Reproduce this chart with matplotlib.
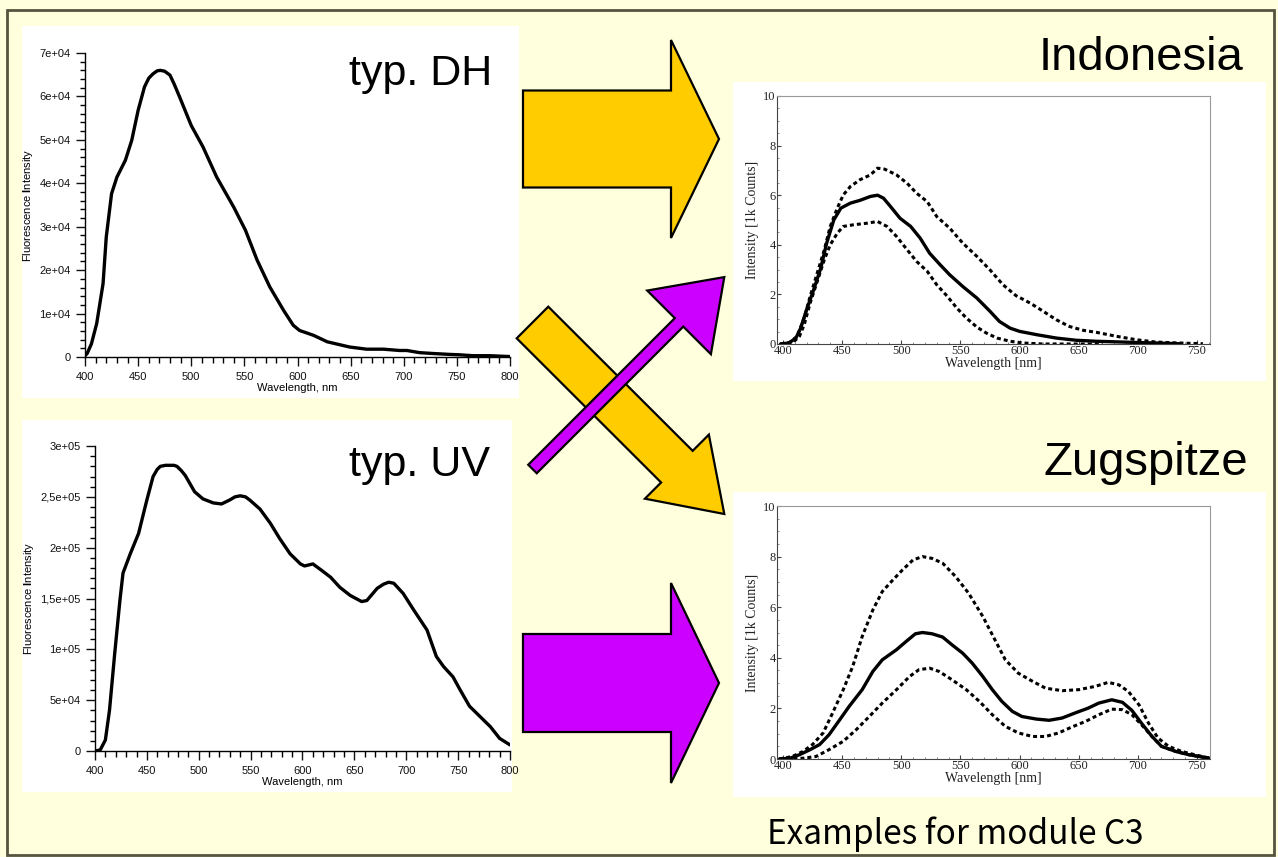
"""
Slide figure: typical DH / UV fluorescence spectra mapped onto the
Indonesia and Zugspitze spectra (examples for module C3).
"""

from __future__ import annotations

import matplotlib

matplotlib.use("Agg")
import matplotlib.pyplot as plt
from matplotlib.patches import FancyArrow, Rectangle
from matplotlib.ticker import MultipleLocator


W, H = 1278, 857
BG_COLOR = "#FFFFDD"
FRAME_COLOR = "#55553F"
YELLOW = "#FFCC00"
MAGENTA = "#CC00FF"

# typ. DH spectrum (wavelength nm, fluorescence intensity)
dh_wl = [400, 402, 406, 411, 417, 420, 425, 430, 438, 444, 450, 456, 460, 464,
	468, 471, 475, 480, 484, 489, 500, 511, 524, 540, 551, 562, 574, 587, 596,
	602, 615, 628, 649, 665, 681, 696, 703, 715, 728, 743, 753, 765, 781, 800]
dh_int = [300, 800, 3000, 7700, 16900, 27600, 37600, 41400, 45300, 49900, 56800,
	62200, 64200, 65200, 65900, 66000, 65800, 64900, 62800, 59900, 53300, 48400,
	41400, 34500, 29200, 22300, 16100, 10700, 7300, 6100, 5000, 3500, 2300, 1800,
	1800, 1500, 1500, 1000, 800, 600, 500, 300, 300, 100]
dh_yticks = [0, 1e4, 2e4, 3e4, 4e4, 5e4, 6e4, 7e4]
dh_ylabels = ["0", "1e+04", "2e+04", "3e+04", "4e+04", "5e+04", "6e+04", "7e+04"]

# typ. UV spectrum
uv_wl = [400, 405, 410, 414, 419, 424, 427, 434, 442, 450, 456, 460, 463, 468,
	472, 476, 479, 483, 487, 496, 504, 514, 522, 530, 535, 540, 545, 549, 559,
	569, 578, 588, 598, 602, 606, 610, 618, 627, 636, 646, 657, 662, 672, 678,
	683, 688, 697, 707, 720, 729, 736, 745, 752, 761, 771, 781, 790, 800]
uv_int = [0, 1000, 10800, 40300, 96000, 148000, 175000, 194000, 214000, 247000,
	270000, 277000, 280000, 281000, 281000, 281000, 280000, 276000, 271000,
	255000, 248000, 244000, 243000, 247000, 250000, 251000, 250000, 247000,
	238000, 224000, 209000, 194000, 184000, 182000, 183000, 184000, 178000,
	171000, 161000, 153000, 147000, 148000, 160000, 164000, 166000, 165000,
	155000, 139000, 119000, 93000, 83000, 73000, 60000, 44000, 34000, 24000,
	12400, 6000]
uv_yticks = [0, 5e4, 1e5, 1.5e5, 2e5, 2.5e5, 3e5]
uv_ylabels = ["0", "5e+04", "1e+05", "1,5e+05", "2e+05", "2,5e+05", "3e+05"]

# Indonesia (intensity in 1k counts)
indo_wl = [398, 405, 411, 415, 420, 426, 432, 437, 443, 449, 457, 465, 474, 480,
	485, 491, 499, 508, 516, 524, 533, 541, 552, 564, 575, 583, 592, 600, 614,
	631, 648, 665, 693, 715, 735]
indo_mean = [0, 0.04, 0.24, 0.64, 1.38, 2.19, 3.06, 4.07, 5.0, 5.48, 5.68, 5.79,
	5.95, 6.0, 5.88, 5.54, 5.07, 4.74, 4.27, 3.66, 3.19, 2.79, 2.32, 1.85, 1.32,
	0.91, 0.64, 0.51, 0.38, 0.24, 0.15, 0.11, 0.07, 0.04, 0.01]
indo_hi_wl = [398, 406, 412, 418, 423, 429, 435, 440, 446, 451, 457, 465, 474,
	480, 486, 496, 505, 513, 522, 530, 541, 552, 564, 575, 586, 597, 609, 620,
	631, 642, 654, 665, 682, 699, 715, 735, 755]
indo_hi = [0, 0.07, 0.31, 1.05, 1.92, 2.86, 3.80, 4.74, 5.48, 6.01, 6.35, 6.62,
	6.82, 7.09, 7.05, 6.82, 6.48, 6.08, 5.74, 5.14, 4.67, 4.07, 3.53, 2.99, 2.39,
	1.95, 1.65, 1.32, 0.98, 0.71, 0.55, 0.47, 0.31, 0.17, 0.08, 0.04, 0.01]
indo_lo_wl = [398, 408, 414, 418, 423, 429, 435, 440, 446, 451, 460, 471, 480,
	488, 496, 505, 513, 522, 530, 539, 547, 555, 564, 572, 581, 592, 603, 620,
	637, 670]
indo_lo = [0, 0.04, 0.31, 0.78, 1.65, 2.52, 3.40, 4.0, 4.47, 4.74, 4.81, 4.87,
	4.94, 4.74, 4.34, 3.80, 3.33, 2.93, 2.39, 1.92, 1.45, 1.05, 0.68, 0.44, 0.24,
	0.11, 0.04, 0.0, 0.0, 0.0]

# Zugspitze (intensity in 1k counts)
zug_wl = [397, 406, 414, 423, 431, 439, 448, 456, 467, 476, 484, 496, 504, 512,
	518, 526, 535, 543, 552, 560, 569, 577, 585, 594, 602, 614, 625, 636, 647,
	658, 667, 678, 687, 695, 703, 712, 720, 732, 743, 754, 760]
zug_mean = [0, 0.03, 0.17, 0.37, 0.57, 0.96, 1.55, 2.08, 2.74, 3.46, 3.92, 4.32,
	4.64, 4.95, 5.0, 4.95, 4.82, 4.51, 4.18, 3.79, 3.26, 2.74, 2.28, 1.88, 1.68,
	1.58, 1.53, 1.62, 1.82, 2.01, 2.21, 2.34, 2.24, 1.92, 1.42, 0.89, 0.5, 0.30,
	0.17, 0.08, 0.04]
zug_hi_wl = [397, 408, 417, 425, 434, 442, 451, 459, 467, 476, 484, 493, 501,
	510, 518, 526, 535, 546, 557, 569, 580, 588, 599, 611, 622, 636, 650, 664,
	675, 684, 692, 701, 709, 717, 726, 737, 748, 760]
zug_hi = [0, 0.1, 0.30, 0.57, 1.03, 1.82, 2.74, 3.66, 4.84, 5.89, 6.62, 7.08,
	7.47, 7.87, 8.0, 7.93, 7.74, 7.21, 6.55, 5.63, 4.64, 3.92, 3.39, 3.07, 2.80,
	2.70, 2.74, 2.87, 3.03, 2.93, 2.67, 2.14, 1.42, 0.83, 0.50, 0.30, 0.17, 0.04]
zug_lo_wl = [397, 417, 428, 439, 451, 462, 473, 484, 496, 507, 515, 524, 532,
	543, 555, 566, 577, 588, 599, 611, 622, 633, 644, 656, 667, 678, 687, 695,
	703, 712, 720, 732, 743, 754, 760]
zug_lo = [0, 0.03, 0.1, 0.37, 0.70, 1.16, 1.68, 2.21, 2.74, 3.26, 3.53, 3.59,
	3.46, 3.13, 2.74, 2.28, 1.75, 1.29, 1.03, 0.89, 0.89, 1.03, 1.26, 1.49, 1.75,
	1.97, 1.95, 1.75, 1.36, 0.89, 0.5, 0.30, 0.17, 0.08, 0.04]


def add_px_axes(fig, x0, y0, x1, y1):
	"""Add an axes given its box in pixels (origin top-left)."""
	return fig.add_axes([x0 / W, 1 - y1 / H, (x1 - x0) / W, (y1 - y0) / H])


def style_left(ax, yticks, ylabels, ymax, yminor):
	ax.set_facecolor("none")
	ax.set_xlim(400, 800)
	ax.set_ylim(0, ymax)
	for side in ("top", "right"):
		ax.spines[side].set_visible(False)
	for side in ("left", "bottom"):
		ax.spines[side].set_linewidth(1.0)
	ax.set_xticks(range(400, 801, 50))
	ax.xaxis.set_minor_locator(MultipleLocator(10))
	ax.set_yticks(yticks, ylabels)
	ax.yaxis.set_minor_locator(MultipleLocator(yminor))
	ax.tick_params(which="major", direction="out", length=6.5, width=1,
		labelsize=8, colors="#111111", pad=4)
	ax.tick_params(which="minor", direction="out", length=4, width=1)
	ax.tick_params(axis="y", which="minor", length=3.5)
	ax.set_ylabel(r"Fluorescence $\mathbf{I}$ntensity", fontsize=8, labelpad=3)
	ax.set_xlabel("Wavelength, nm", fontsize=8, labelpad=1)


def style_right(ax):
	ax.set_facecolor("none")
	ax.set_xlim(395, 761)
	ax.set_ylim(0, 10)
	for side in ("left", "bottom"):
		ax.spines[side].set_color("#444444")
	for side in ("top", "right"):
		ax.spines[side].set_color("#999999")
	ax.set_xticks(range(400, 751, 50))
	ax.set_yticks(range(0, 11, 2))
	ax.xaxis.set_minor_locator(MultipleLocator(10))
	ax.yaxis.set_minor_locator(MultipleLocator(0.5))
	ax.tick_params(which="major", direction="in", length=3, width=0.8,
		labelsize=9, colors="#444444", labelcolor="#222222", pad=1)
	ax.tick_params(which="minor", direction="in", length=1.5, width=0.6,
		colors="#777777")
	for lbl in ax.get_xticklabels() + ax.get_yticklabels():
		lbl.set_fontfamily("Liberation Serif")
	ax.set_xlabel("Wavelength [nm]", fontsize=10, family="Liberation Serif",
		color="#222222", labelpad=0)
	ax.set_ylabel("Intensity [1k Counts]", fontsize=10, family="Liberation Serif",
		color="#222222", labelpad=3)


def main() -> None:
	plt.rcParams["font.family"] = ["Liberation Sans", "DejaVu Sans"]
	plt.rcParams["mathtext.fontset"] = "custom"
	plt.rcParams["mathtext.rm"] = "Liberation Sans"
	plt.rcParams["mathtext.bf"] = "Liberation Sans:bold"
	plt.rcParams["lines.solid_joinstyle"] = "round"
	plt.rcParams["lines.solid_capstyle"] = "round"

	fig = plt.figure(figsize=(W / 100, H / 100), dpi=100, facecolor=BG_COLOR)

	# background layer in pixel coordinates
	bg = fig.add_axes([0, 0, 1, 1])
	bg.set_xlim(0, W)
	bg.set_ylim(H, 0)
	bg.axis("off")
	bg.add_patch(Rectangle((7, 10), 1267, 845, facecolor=BG_COLOR,
		edgecolor=FRAME_COLOR, linewidth=2))
	for x0, y0, x1, y1 in [(22, 26, 519, 398), (22, 420, 512, 792),
		(733, 82, 1266, 381), (733, 492, 1266, 797)]:
		bg.add_patch(Rectangle((x0, y0), x1 - x0, y1 - y0, facecolor="white",
			edgecolor="none"))

	arrow_kw = dict(length_includes_head=True, linewidth=1.6, edgecolor="black",
		zorder=5)
	bg.add_patch(FancyArrow(523, 139, 196, 0, width=97, head_width=198,
		head_length=48, facecolor=YELLOW, **arrow_kw))
	bg.add_patch(FancyArrow(523, 683, 196, 0, width=98, head_width=200,
		head_length=48, facecolor=MAGENTA, **arrow_kw))
	bg.add_patch(FancyArrow(532.5, 322.5, 191.8, 191.5, width=44.7,
		head_width=90.5, head_length=67, facecolor=YELLOW, **arrow_kw))
	bg.add_patch(FancyArrow(532.5, 469, 191.8, -191.9, width=12, head_width=90,
		head_length=64, facecolor=MAGENTA, **arrow_kw))

	bg.text(492, 85, "typ. DH", fontsize=31, ha="right", va="baseline")
	bg.text(490, 476, "typ. UV", fontsize=31, ha="right", va="baseline")
	bg.text(1243, 70, "Indonesia", fontsize=34, ha="right", va="baseline")
	bg.text(1248, 475, "Zugspitze", fontsize=34, ha="right", va="baseline")
	bg.text(767, 844, "Examples for module C3", fontsize=24, ha="left",
		va="baseline", family=["Noto Sans CJK JP", "DejaVu Sans"])

	# typ. DH
	ax = add_px_axes(fig, 85, 53, 510, 357)
	ax.plot(dh_wl, dh_int, color="black", linewidth=2.4)
	style_left(ax, dh_yticks, dh_ylabels, 7e4, 2000)

	# typ. UV
	ax = add_px_axes(fig, 95, 446, 510, 751)
	ax.plot(uv_wl, uv_int, color="black", linewidth=2.4)
	style_left(ax, uv_yticks, uv_ylabels, 3e5, 10000)

	dots = (0, (1.3, 1.0))
	# Indonesia
	ax = add_px_axes(fig, 777, 96, 1210, 344)
	ax.plot(indo_hi_wl, indo_hi, color="black", linewidth=2.2, linestyle=dots)
	ax.plot(indo_lo_wl, indo_lo, color="black", linewidth=2.2, linestyle=dots)
	ax.plot(indo_wl, indo_mean, color="black", linewidth=2.4)
	style_right(ax)

	# Zugspitze
	ax = add_px_axes(fig, 777, 506, 1210, 759)
	ax.plot(zug_hi_wl, zug_hi, color="black", linewidth=2.2, linestyle=dots)
	ax.plot(zug_lo_wl, zug_lo, color="black", linewidth=2.2, linestyle=dots)
	ax.plot(zug_wl, zug_mean, color="black", linewidth=2.4)
	style_right(ax)

	fig.savefig("out.png", dpi=100, facecolor=BG_COLOR)
	plt.close(fig)


if __name__ == "__main__":
	main()
